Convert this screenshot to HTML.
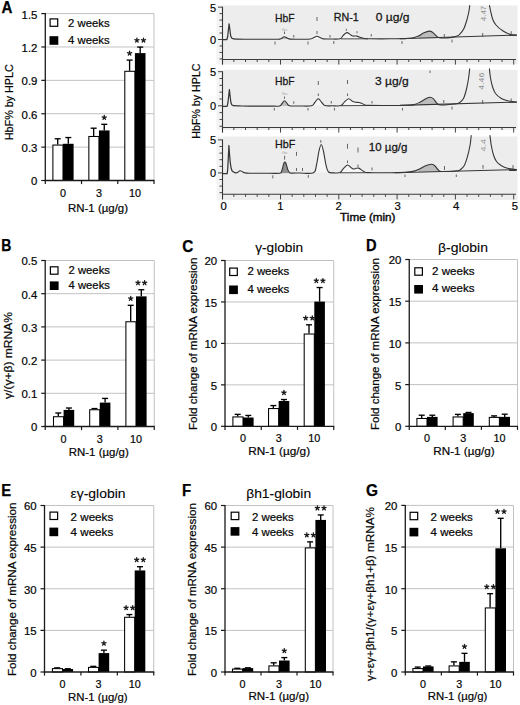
<!DOCTYPE html>
<html><head><meta charset="utf-8"><style>html,body{margin:0;padding:0;background:#fff;}svg{display:block;}</style></head><body>
<svg width="520" height="705" viewBox="0 0 520 705" font-family='"Liberation Sans", sans-serif'>
<rect width="520" height="705" fill="#fff"/>
<rect x="216.5" y="5.4" width="6.0" height="59.1" fill="#f3f3f3"/>
<rect x="222.5" y="5.4" width="295.0" height="59.1" fill="#ededed"/>
<rect x="216.5" y="69.8" width="6.0" height="60.000000000000014" fill="#f3f3f3"/>
<rect x="222.5" y="69.8" width="295.0" height="60.000000000000014" fill="#ededed"/>
<rect x="216.5" y="136.5" width="6.0" height="63.5" fill="#f3f3f3"/>
<rect x="222.5" y="136.5" width="295.0" height="63.5" fill="#ededed"/>
<path d="M341.00,38.80 C341.33,38.27 342.03,36.63 343.00,35.60 C343.97,34.57 345.58,32.77 346.80,32.60 C348.02,32.43 349.33,34.03 350.30,34.60 C351.27,35.17 351.82,35.77 352.60,36.00 C353.38,36.23 354.27,35.98 355.00,36.00 C355.73,36.02 356.17,35.88 357.00,36.10 C357.83,36.32 358.83,36.90 360.00,37.30 C361.17,37.70 362.67,38.25 364.00,38.50 C365.33,38.75 367.33,38.75 368.00,38.80 Z" fill="#f6f6f6" stroke="none"/>
<path d="M313.50,39.00 C313.50,38.78 312.92,38.15 313.50,37.70 C314.08,37.25 315.83,36.30 317.00,36.30 C318.17,36.30 319.42,37.27 320.50,37.70 C321.58,38.13 323.00,38.70 323.50,38.90 Z" fill="#f6f6f6" stroke="none"/>
<path d="M278.50,39.20 C278.97,39.07 280.33,38.80 281.30,38.40 C282.27,38.00 283.30,36.85 284.30,36.80 C285.30,36.75 286.30,37.72 287.30,38.10 C288.30,38.48 289.80,38.93 290.30,39.10 Z" fill="#bcbcbc" stroke="none"/>
<path d="M418.80,38.40 C418.80,38.00 417.93,36.93 418.80,36.00 C419.67,35.07 422.25,33.62 424.00,32.80 C425.75,31.98 427.80,31.13 429.30,31.10 C430.80,31.07 431.88,31.85 433.00,32.60 C434.12,33.35 435.25,34.87 436.00,35.60 C436.75,36.33 437.25,36.57 437.50,37.00 C437.75,37.43 437.50,38.00 437.50,38.20 Z" fill="#bcbcbc" stroke="none"/>
<line x1="400.00" y1="38.70" x2="516.50" y2="35.10" stroke="#363636" stroke-width="1.1"/>
<line x1="341.00" y1="38.90" x2="368.00" y2="38.80" stroke="#363636" stroke-width="0.9"/>
<path d="M222.50,39.50 L226.90,39.50 L227.70,36.50 L228.50,29.00 L229.10,23.80 L229.80,29.00 L230.60,35.50 L231.60,38.00 L233.20,38.80" fill="none" stroke="#363636" stroke-width="1.25" stroke-linejoin="round" stroke-linecap="round"/>
<path d="M233.20,38.80 C234.00,38.85 235.20,39.02 238.00,39.10 C240.80,39.18 244.67,39.27 250.00,39.30 C255.33,39.33 265.25,39.32 270.00,39.30 C274.75,39.28 276.62,39.35 278.50,39.20 C280.38,39.05 280.33,38.80 281.30,38.40 C282.27,38.00 283.30,36.85 284.30,36.80 C285.30,36.75 286.30,37.72 287.30,38.10 C288.30,38.48 288.18,38.92 290.30,39.10 C292.42,39.28 296.63,39.22 300.00,39.20 C303.37,39.18 308.25,39.25 310.50,39.00 C312.75,38.75 312.42,38.15 313.50,37.70 C314.58,37.25 315.83,36.30 317.00,36.30 C318.17,36.30 319.42,37.27 320.50,37.70 C321.58,38.13 321.92,38.68 323.50,38.90 C325.08,39.12 327.25,39.02 330.00,39.00 C332.75,38.98 337.83,39.37 340.00,38.80 C342.17,38.23 341.87,36.63 343.00,35.60 C344.13,34.57 345.58,32.77 346.80,32.60 C348.02,32.43 349.33,34.03 350.30,34.60 C351.27,35.17 351.82,35.77 352.60,36.00 C353.38,36.23 354.27,35.98 355.00,36.00 C355.73,36.02 356.17,35.88 357.00,36.10 C357.83,36.32 358.83,36.90 360.00,37.30 C361.17,37.70 362.33,38.25 364.00,38.50 C365.67,38.75 365.67,38.75 370.00,38.80 C374.33,38.85 384.17,38.83 390.00,38.80 C395.83,38.77 401.33,38.73 405.00,38.60 C408.67,38.47 409.83,38.40 412.00,38.00 C414.17,37.60 416.00,37.07 418.00,36.20 C420.00,35.33 422.12,33.65 424.00,32.80 C425.88,31.95 427.80,31.13 429.30,31.10 C430.80,31.07 431.88,31.85 433.00,32.60 C434.12,33.35 435.08,34.80 436.00,35.60 C436.92,36.40 437.33,37.00 438.50,37.40 C439.67,37.80 441.08,37.97 443.00,38.00 C444.92,38.03 447.90,37.85 450.00,37.60 C452.10,37.35 454.03,37.00 455.60,36.50 C457.17,36.00 458.03,35.88 459.40,34.60 C460.77,33.32 462.52,31.37 463.80,28.80 C465.08,26.23 466.23,22.17 467.10,19.20 C467.97,16.23 468.57,13.28 469.00,11.00 C469.43,8.72 469.58,6.42 469.70,5.50" fill="none" stroke="#363636" stroke-width="1.1" stroke-linejoin="round" stroke-linecap="round"/>
<path d="M489.50,5.50 C489.68,6.42 490.07,8.72 490.60,11.00 C491.13,13.28 491.80,16.87 492.70,19.20 C493.60,21.53 494.33,23.07 496.00,25.00 C497.67,26.93 500.30,29.20 502.70,30.80 C505.10,32.40 508.10,33.88 510.40,34.60 C512.70,35.32 515.48,35.02 516.50,35.10" fill="none" stroke="#363636" stroke-width="1.1" stroke-linejoin="round" stroke-linecap="round"/>
<line x1="293.75" y1="35.00" x2="293.75" y2="37.50" stroke="#555" stroke-width="0.9"/>
<line x1="275.00" y1="41.50" x2="275.00" y2="44.50" stroke="#555" stroke-width="0.9"/>
<line x1="308.00" y1="41.50" x2="308.00" y2="44.50" stroke="#555" stroke-width="0.9"/>
<line x1="317.00" y1="31.00" x2="317.00" y2="34.00" stroke="#555" stroke-width="0.9"/>
<line x1="317.00" y1="17.00" x2="317.00" y2="21.00" stroke="#555" stroke-width="0.9"/>
<line x1="330.00" y1="35.00" x2="330.00" y2="37.50" stroke="#555" stroke-width="0.9"/>
<line x1="346.30" y1="28.80" x2="346.30" y2="30.80" stroke="#555" stroke-width="0.9"/>
<line x1="357.00" y1="31.20" x2="357.00" y2="33.20" stroke="#555" stroke-width="0.9"/>
<line x1="371.30" y1="34.00" x2="371.30" y2="36.50" stroke="#555" stroke-width="0.9"/>
<line x1="333.80" y1="41.00" x2="333.80" y2="44.00" stroke="#555" stroke-width="0.9"/>
<line x1="402.00" y1="41.00" x2="402.00" y2="44.00" stroke="#555" stroke-width="0.9"/>
<line x1="444.30" y1="34.00" x2="444.30" y2="37.00" stroke="#555" stroke-width="0.9"/>
<line x1="452.00" y1="39.50" x2="452.00" y2="42.50" stroke="#555" stroke-width="0.9"/>
<line x1="482.70" y1="33.00" x2="482.70" y2="37.00" stroke="#555" stroke-width="0.9"/>
<line x1="511.20" y1="31.20" x2="511.20" y2="34.00" stroke="#555" stroke-width="0.9"/>
<line x1="284.50" y1="31.50" x2="284.50" y2="34.00" stroke="#555" stroke-width="0.9"/>
<text x="284.50" y="30.50" font-size="4" fill="#9a9a9a" text-anchor="middle">Gu</text>
<text x="485.50" y="13.50" font-size="7" fill="#8e8e8e" text-anchor="middle" textLength="15.50" lengthAdjust="spacingAndGlyphs" transform="rotate(-90 485.50 13.50)">4.47</text>
<path d="M341.00,105.60 C341.58,104.97 343.22,102.93 344.50,101.80 C345.78,100.67 347.40,98.90 348.70,98.80 C350.00,98.70 351.17,100.63 352.30,101.20 C353.43,101.77 354.38,101.98 355.50,102.20 C356.62,102.42 358.00,102.32 359.00,102.50 C360.00,102.68 360.58,102.93 361.50,103.30 C362.42,103.67 363.42,104.35 364.50,104.70 C365.58,105.05 367.42,105.28 368.00,105.40 Z" fill="#f6f6f6" stroke="none"/>
<path d="M311.50,105.80 C312.05,105.25 313.67,103.67 314.80,102.50 C315.93,101.33 317.13,98.80 318.30,98.80 C319.47,98.80 320.68,101.37 321.80,102.50 C322.92,103.63 324.47,105.08 325.00,105.60 Z" fill="#f6f6f6" stroke="none"/>
<path d="M279.50,106.00 C279.92,105.58 281.17,104.37 282.00,103.50 C282.83,102.63 283.67,100.83 284.50,100.80 C285.33,100.77 286.17,102.48 287.00,103.30 C287.83,104.12 289.08,105.30 289.50,105.70 Z" fill="#bcbcbc" stroke="none"/>
<path d="M419.50,104.90 C419.50,104.48 418.50,103.40 419.50,102.40 C420.50,101.40 423.75,99.77 425.50,98.90 C427.25,98.03 428.67,97.22 430.00,97.20 C431.33,97.18 432.42,97.87 433.50,98.80 C434.58,99.73 435.75,101.88 436.50,102.80 C437.25,103.72 437.75,103.95 438.00,104.30 C438.25,104.65 438.00,104.80 438.00,104.90 Z" fill="#bcbcbc" stroke="none"/>
<line x1="400.00" y1="105.40" x2="516.50" y2="102.10" stroke="#363636" stroke-width="1.1"/>
<line x1="341.00" y1="105.70" x2="368.00" y2="105.50" stroke="#363636" stroke-width="0.9"/>
<path d="M222.50,106.30 L227.10,106.30 L227.90,103.00 L228.70,96.00 L229.40,89.50 L230.10,96.00 L230.90,102.50 L231.90,105.00 L233.50,105.60" fill="none" stroke="#363636" stroke-width="1.25" stroke-linejoin="round" stroke-linecap="round"/>
<path d="M233.50,105.60 C234.58,105.65 237.25,105.82 240.00,105.90 C242.75,105.98 245.00,106.07 250.00,106.10 C255.00,106.13 265.08,106.12 270.00,106.10 C274.92,106.08 277.50,106.43 279.50,106.00 C281.50,105.57 281.17,104.37 282.00,103.50 C282.83,102.63 283.67,100.83 284.50,100.80 C285.33,100.77 286.17,102.48 287.00,103.30 C287.83,104.12 287.33,105.25 289.50,105.70 C291.67,106.15 296.33,105.98 300.00,106.00 C303.67,106.02 309.03,106.38 311.50,105.80 C313.97,105.22 313.67,103.67 314.80,102.50 C315.93,101.33 317.13,98.80 318.30,98.80 C319.47,98.80 320.68,101.37 321.80,102.50 C322.92,103.63 323.30,105.05 325.00,105.60 C326.70,106.15 329.33,105.80 332.00,105.80 C334.67,105.80 338.92,106.27 341.00,105.60 C343.08,104.93 343.22,102.93 344.50,101.80 C345.78,100.67 347.40,98.90 348.70,98.80 C350.00,98.70 351.17,100.63 352.30,101.20 C353.43,101.77 354.38,101.98 355.50,102.20 C356.62,102.42 358.00,102.32 359.00,102.50 C360.00,102.68 360.58,102.93 361.50,103.30 C362.42,103.67 363.42,104.35 364.50,104.70 C365.58,105.05 363.75,105.27 368.00,105.40 C372.25,105.53 383.83,105.52 390.00,105.50 C396.17,105.48 401.00,105.45 405.00,105.30 C409.00,105.15 411.50,105.12 414.00,104.60 C416.50,104.08 418.08,103.15 420.00,102.20 C421.92,101.25 423.83,99.73 425.50,98.90 C427.17,98.07 428.67,97.22 430.00,97.20 C431.33,97.18 432.42,97.87 433.50,98.80 C434.58,99.73 435.58,101.80 436.50,102.80 C437.42,103.80 437.58,104.43 439.00,104.80 C440.42,105.17 442.83,105.10 445.00,105.00 C447.17,104.90 450.17,104.40 452.00,104.20 C453.83,104.00 454.77,104.03 456.00,103.80 C457.23,103.57 458.15,103.68 459.40,102.80 C460.65,101.92 462.32,100.80 463.50,98.50 C464.68,96.20 465.65,92.42 466.50,89.00 C467.35,85.58 468.07,81.38 468.60,78.00 C469.13,74.62 469.52,70.25 469.70,68.70" fill="none" stroke="#363636" stroke-width="1.1" stroke-linejoin="round" stroke-linecap="round"/>
<path d="M489.40,68.70 C489.58,70.25 489.97,74.95 490.50,78.00 C491.03,81.05 491.77,84.42 492.60,87.00 C493.43,89.58 494.10,91.63 495.50,93.50 C496.90,95.37 499.08,97.03 501.00,98.20 C502.92,99.37 505.43,99.98 507.00,100.50 C508.57,101.02 508.82,101.03 510.40,101.30 C511.98,101.57 515.48,101.97 516.50,102.10" fill="none" stroke="#363636" stroke-width="1.1" stroke-linejoin="round" stroke-linecap="round"/>
<line x1="284.50" y1="96.50" x2="284.50" y2="98.80" stroke="#555" stroke-width="0.9"/>
<line x1="293.75" y1="101.30" x2="293.75" y2="103.80" stroke="#555" stroke-width="0.9"/>
<line x1="274.30" y1="108.00" x2="274.30" y2="110.50" stroke="#555" stroke-width="0.9"/>
<line x1="308.00" y1="108.00" x2="308.00" y2="110.50" stroke="#555" stroke-width="0.9"/>
<line x1="334.50" y1="108.00" x2="334.50" y2="110.50" stroke="#555" stroke-width="0.9"/>
<line x1="402.50" y1="108.00" x2="402.50" y2="110.50" stroke="#555" stroke-width="0.9"/>
<line x1="452.00" y1="106.50" x2="452.00" y2="109.50" stroke="#555" stroke-width="0.9"/>
<line x1="318.30" y1="93.50" x2="318.30" y2="96.00" stroke="#555" stroke-width="0.9"/>
<line x1="318.30" y1="81.00" x2="318.30" y2="85.00" stroke="#555" stroke-width="0.9"/>
<line x1="347.50" y1="80.00" x2="347.50" y2="84.00" stroke="#555" stroke-width="0.9"/>
<line x1="347.50" y1="93.50" x2="347.50" y2="96.00" stroke="#555" stroke-width="0.9"/>
<line x1="331.30" y1="101.00" x2="331.30" y2="103.50" stroke="#555" stroke-width="0.9"/>
<line x1="372.00" y1="101.00" x2="372.00" y2="103.50" stroke="#555" stroke-width="0.9"/>
<line x1="430.00" y1="70.50" x2="430.00" y2="73.00" stroke="#555" stroke-width="0.9"/>
<line x1="443.80" y1="100.00" x2="443.80" y2="103.00" stroke="#555" stroke-width="0.9"/>
<line x1="482.70" y1="100.00" x2="482.70" y2="104.00" stroke="#555" stroke-width="0.9"/>
<line x1="511.20" y1="98.50" x2="511.20" y2="101.50" stroke="#555" stroke-width="0.9"/>
<text x="284.50" y="94.50" font-size="4" fill="#9a9a9a" text-anchor="middle">Gu</text>
<text x="484.50" y="81.20" font-size="7" fill="#8e8e8e" text-anchor="middle" textLength="17.00" lengthAdjust="spacingAndGlyphs" transform="rotate(-90 484.50 81.20)">4.46</text>
<path d="M340.00,172.70 C340.58,171.98 342.25,169.68 343.50,168.40 C344.75,167.12 346.28,165.17 347.50,165.00 C348.72,164.83 349.82,166.73 350.80,167.40 C351.78,168.07 352.53,168.85 353.40,169.00 C354.27,169.15 355.15,168.45 356.00,168.30 C356.85,168.15 357.67,167.88 358.50,168.10 C359.33,168.32 360.08,169.02 361.00,169.60 C361.92,170.18 362.83,171.10 364.00,171.60 C365.17,172.10 367.33,172.43 368.00,172.60 Z" fill="#f6f6f6" stroke="none"/>
<path d="M313.50,172.80 C314.00,171.50 315.58,168.63 316.50,165.00 C317.42,161.37 318.22,154.42 319.00,151.00 C319.78,147.58 320.47,144.50 321.20,144.50 C321.93,144.50 322.60,147.58 323.40,151.00 C324.20,154.42 325.15,161.50 326.00,165.00 C326.85,168.50 328.08,170.83 328.50,172.00 Z" fill="#f6f6f6" stroke="none"/>
<path d="M279.80,173.20 C280.08,172.93 281.00,172.58 281.50,171.60 C282.00,170.62 282.42,168.67 282.80,167.30 C283.18,165.93 283.48,164.28 283.80,163.40 C284.12,162.52 284.40,162.13 284.70,162.00 C285.00,161.87 285.28,162.05 285.60,162.60 C285.92,163.15 286.23,164.13 286.60,165.30 C286.97,166.47 287.32,168.40 287.80,169.60 C288.28,170.80 288.97,171.92 289.50,172.50 C290.03,173.08 290.75,173.00 291.00,173.10 Z" fill="#8f8f8f" stroke="none"/>
<path d="M418.50,172.00 C418.50,171.57 417.42,170.42 418.50,169.40 C419.58,168.38 422.87,166.77 425.00,165.90 C427.13,165.03 429.72,164.27 431.30,164.20 C432.88,164.13 433.47,164.70 434.50,165.50 C435.53,166.30 436.75,168.15 437.50,169.00 C438.25,169.85 438.75,170.15 439.00,170.60 C439.25,171.05 439.00,171.52 439.00,171.70 Z" fill="#bcbcbc" stroke="none"/>
<line x1="395.00" y1="172.70" x2="516.50" y2="169.60" stroke="#363636" stroke-width="1.1"/>
<line x1="340.00" y1="172.80" x2="368.00" y2="172.70" stroke="#363636" stroke-width="0.9"/>
<path d="M222.50,173.60 L227.20,173.60 L227.80,168.00 L228.40,156.00 L228.90,145.50 L229.50,154.00 L230.30,163.00 L231.20,168.50 L232.30,171.20 L234.50,172.50" fill="none" stroke="#363636" stroke-width="1.25" stroke-linejoin="round" stroke-linecap="round"/>
<path d="M234.50,172.50 C234.90,172.55 235.98,173.08 236.90,172.80 C237.82,172.52 239.07,170.97 240.00,170.80 C240.93,170.63 241.73,171.47 242.50,171.80 C243.27,172.13 243.35,172.57 244.60,172.80 C245.85,173.03 245.77,173.12 250.00,173.20 C254.23,173.28 265.03,173.30 270.00,173.30 C274.97,173.30 277.88,173.48 279.80,173.20 C281.72,172.92 281.00,172.58 281.50,171.60 C282.00,170.62 282.42,168.67 282.80,167.30 C283.18,165.93 283.48,164.28 283.80,163.40 C284.12,162.52 284.40,162.13 284.70,162.00 C285.00,161.87 285.28,162.05 285.60,162.60 C285.92,163.15 286.23,164.13 286.60,165.30 C286.97,166.47 287.32,168.40 287.80,169.60 C288.28,170.80 288.97,171.92 289.50,172.50 C290.03,173.08 289.25,173.02 291.00,173.10 C292.75,173.18 296.25,173.05 300.00,173.00 C303.75,172.95 310.75,174.13 313.50,172.80 C316.25,171.47 315.58,168.63 316.50,165.00 C317.42,161.37 318.22,154.42 319.00,151.00 C319.78,147.58 320.47,144.50 321.20,144.50 C321.93,144.50 322.60,147.58 323.40,151.00 C324.20,154.42 325.15,161.50 326.00,165.00 C326.85,168.50 327.17,170.68 328.50,172.00 C329.83,173.32 332.08,172.80 334.00,172.90 C335.92,173.00 338.42,173.35 340.00,172.60 C341.58,171.85 342.25,169.67 343.50,168.40 C344.75,167.13 346.28,165.17 347.50,165.00 C348.72,164.83 349.82,166.73 350.80,167.40 C351.78,168.07 352.53,168.85 353.40,169.00 C354.27,169.15 355.15,168.45 356.00,168.30 C356.85,168.15 357.67,167.88 358.50,168.10 C359.33,168.32 360.08,169.02 361.00,169.60 C361.92,170.18 362.83,171.10 364.00,171.60 C365.17,172.10 363.67,172.40 368.00,172.60 C372.33,172.80 383.83,172.83 390.00,172.80 C396.17,172.77 401.17,172.63 405.00,172.40 C408.83,172.17 410.67,171.93 413.00,171.40 C415.33,170.87 417.00,170.12 419.00,169.20 C421.00,168.28 422.95,166.73 425.00,165.90 C427.05,165.07 429.72,164.27 431.30,164.20 C432.88,164.13 433.47,164.70 434.50,165.50 C435.53,166.30 436.58,168.03 437.50,169.00 C438.42,169.97 438.58,170.88 440.00,171.30 C441.42,171.72 443.83,171.50 446.00,171.50 C448.17,171.50 451.17,171.42 453.00,171.30 C454.83,171.18 455.83,171.02 457.00,170.80 C458.17,170.58 458.78,170.88 460.00,170.00 C461.22,169.12 463.03,167.83 464.30,165.50 C465.57,163.17 466.63,159.42 467.60,156.00 C468.57,152.58 469.50,148.40 470.10,145.00 C470.70,141.60 471.02,137.17 471.20,135.60" fill="none" stroke="#363636" stroke-width="1.1" stroke-linejoin="round" stroke-linecap="round"/>
<path d="M490.00,135.60 C490.20,137.17 490.62,141.77 491.20,145.00 C491.78,148.23 492.62,152.25 493.50,155.00 C494.38,157.75 495.17,159.70 496.50,161.50 C497.83,163.30 499.67,164.67 501.50,165.80 C503.33,166.93 505.00,167.67 507.50,168.30 C510.00,168.93 515.00,169.38 516.50,169.60" fill="none" stroke="#363636" stroke-width="1.1" stroke-linejoin="round" stroke-linecap="round"/>
<line x1="284.60" y1="155.80" x2="284.60" y2="159.60" stroke="#555" stroke-width="0.9"/>
<line x1="296.50" y1="151.90" x2="296.50" y2="155.80" stroke="#555" stroke-width="0.9"/>
<line x1="296.50" y1="168.00" x2="296.50" y2="171.00" stroke="#555" stroke-width="0.9"/>
<line x1="302.50" y1="168.00" x2="302.50" y2="171.00" stroke="#555" stroke-width="0.9"/>
<line x1="272.80" y1="175.30" x2="272.80" y2="178.40" stroke="#555" stroke-width="0.9"/>
<line x1="308.30" y1="175.00" x2="308.30" y2="177.80" stroke="#555" stroke-width="0.9"/>
<line x1="320.80" y1="140.00" x2="320.80" y2="142.80" stroke="#555" stroke-width="0.9"/>
<line x1="347.50" y1="143.80" x2="347.50" y2="148.80" stroke="#555" stroke-width="0.9"/>
<line x1="347.50" y1="160.50" x2="347.50" y2="163.00" stroke="#555" stroke-width="0.9"/>
<line x1="358.00" y1="147.50" x2="358.00" y2="152.50" stroke="#555" stroke-width="0.9"/>
<line x1="358.00" y1="164.50" x2="358.00" y2="167.00" stroke="#555" stroke-width="0.9"/>
<line x1="372.00" y1="167.50" x2="372.00" y2="170.30" stroke="#555" stroke-width="0.9"/>
<line x1="444.50" y1="166.00" x2="444.50" y2="170.00" stroke="#555" stroke-width="0.9"/>
<line x1="405.00" y1="174.50" x2="405.00" y2="177.00" stroke="#555" stroke-width="0.9"/>
<line x1="456.30" y1="174.50" x2="456.30" y2="177.00" stroke="#555" stroke-width="0.9"/>
<line x1="483.00" y1="165.00" x2="483.00" y2="168.80" stroke="#555" stroke-width="0.9"/>
<line x1="513.00" y1="165.00" x2="513.00" y2="168.80" stroke="#555" stroke-width="0.9"/>
<text x="284.60" y="153.50" font-size="4" fill="#9a9a9a" text-anchor="middle">Gu</text>
<text x="486.00" y="145.20" font-size="7" fill="#8e8e8e" text-anchor="middle" textLength="12.50" lengthAdjust="spacingAndGlyphs" transform="rotate(-90 486.00 145.20)">4.4</text>
<text x="274.90" y="21.80" font-size="11.8" fill="#151515" stroke="#151515" stroke-width="0.28" textLength="19.60" lengthAdjust="spacingAndGlyphs">HbF</text>
<text x="333.75" y="20.80" font-size="11.8" fill="#151515" stroke="#151515" stroke-width="0.28" textLength="25.00" lengthAdjust="spacingAndGlyphs">RN-1</text>
<text x="375.75" y="20.80" font-size="11.8" fill="#151515" stroke="#151515" stroke-width="0.28" textLength="33.70" lengthAdjust="spacingAndGlyphs">0 µg/g</text>
<text x="274.90" y="85.40" font-size="11.8" fill="#151515" stroke="#151515" stroke-width="0.28" textLength="19.60" lengthAdjust="spacingAndGlyphs">HbF</text>
<text x="375.00" y="85.00" font-size="11.8" fill="#151515" stroke="#151515" stroke-width="0.28" textLength="33.70" lengthAdjust="spacingAndGlyphs">3 µg/g</text>
<text x="275.10" y="148.10" font-size="11.8" fill="#151515" stroke="#151515" stroke-width="0.28" textLength="20.30" lengthAdjust="spacingAndGlyphs">HbF</text>
<text x="368.75" y="150.50" font-size="11.8" fill="#151515" stroke="#151515" stroke-width="0.28" textLength="38.70" lengthAdjust="spacingAndGlyphs">10 µg/g</text>
<line x1="222.5" y1="6.65" x2="222.5" y2="64.70" stroke="#333" stroke-width="1.1"/>
<line x1="222" y1="59.40" x2="516" y2="59.40" stroke="#3a3a3a" stroke-width="1.05"/>
<line x1="219.50" y1="58.91" x2="222.5" y2="58.91" stroke="#444" stroke-width="1"/>
<line x1="219.50" y1="52.44" x2="222.5" y2="52.44" stroke="#444" stroke-width="1"/>
<line x1="219.50" y1="45.97" x2="222.5" y2="45.97" stroke="#444" stroke-width="1"/>
<line x1="218.00" y1="39.50" x2="222.5" y2="39.50" stroke="#444" stroke-width="1"/>
<line x1="219.50" y1="33.03" x2="222.5" y2="33.03" stroke="#444" stroke-width="1"/>
<line x1="219.50" y1="26.56" x2="222.5" y2="26.56" stroke="#444" stroke-width="1"/>
<line x1="219.50" y1="20.09" x2="222.5" y2="20.09" stroke="#444" stroke-width="1"/>
<line x1="219.50" y1="13.62" x2="222.5" y2="13.62" stroke="#444" stroke-width="1"/>
<line x1="218.00" y1="7.15" x2="222.5" y2="7.15" stroke="#444" stroke-width="1"/>
<line x1="233.86" y1="59.40" x2="233.86" y2="62.00" stroke="#444" stroke-width="1"/>
<line x1="245.52" y1="59.40" x2="245.52" y2="62.00" stroke="#444" stroke-width="1"/>
<line x1="257.18" y1="59.40" x2="257.18" y2="62.00" stroke="#444" stroke-width="1"/>
<line x1="268.84" y1="59.40" x2="268.84" y2="62.00" stroke="#444" stroke-width="1"/>
<line x1="280.50" y1="59.40" x2="280.50" y2="64.60" stroke="#444" stroke-width="1"/>
<line x1="292.16" y1="59.40" x2="292.16" y2="62.00" stroke="#444" stroke-width="1"/>
<line x1="303.82" y1="59.40" x2="303.82" y2="62.00" stroke="#444" stroke-width="1"/>
<line x1="315.48" y1="59.40" x2="315.48" y2="62.00" stroke="#444" stroke-width="1"/>
<line x1="327.14" y1="59.40" x2="327.14" y2="62.00" stroke="#444" stroke-width="1"/>
<line x1="338.80" y1="59.40" x2="338.80" y2="64.60" stroke="#444" stroke-width="1"/>
<line x1="350.46" y1="59.40" x2="350.46" y2="62.00" stroke="#444" stroke-width="1"/>
<line x1="362.12" y1="59.40" x2="362.12" y2="62.00" stroke="#444" stroke-width="1"/>
<line x1="373.78" y1="59.40" x2="373.78" y2="62.00" stroke="#444" stroke-width="1"/>
<line x1="385.44" y1="59.40" x2="385.44" y2="62.00" stroke="#444" stroke-width="1"/>
<line x1="397.10" y1="59.40" x2="397.10" y2="64.60" stroke="#444" stroke-width="1"/>
<line x1="408.76" y1="59.40" x2="408.76" y2="62.00" stroke="#444" stroke-width="1"/>
<line x1="420.42" y1="59.40" x2="420.42" y2="62.00" stroke="#444" stroke-width="1"/>
<line x1="432.08" y1="59.40" x2="432.08" y2="62.00" stroke="#444" stroke-width="1"/>
<line x1="443.74" y1="59.40" x2="443.74" y2="62.00" stroke="#444" stroke-width="1"/>
<line x1="455.40" y1="59.40" x2="455.40" y2="64.60" stroke="#444" stroke-width="1"/>
<line x1="467.06" y1="59.40" x2="467.06" y2="62.00" stroke="#444" stroke-width="1"/>
<line x1="478.72" y1="59.40" x2="478.72" y2="62.00" stroke="#444" stroke-width="1"/>
<line x1="490.38" y1="59.40" x2="490.38" y2="62.00" stroke="#444" stroke-width="1"/>
<line x1="502.04" y1="59.40" x2="502.04" y2="62.00" stroke="#444" stroke-width="1"/>
<line x1="513.70" y1="59.40" x2="513.70" y2="64.60" stroke="#444" stroke-width="1"/>
<text x="216.00" y="11.65" font-size="11" text-anchor="end" stroke="#151515" stroke-width="0.22">5</text>
<text x="216.00" y="44.00" font-size="11" text-anchor="end" stroke="#151515" stroke-width="0.22">0</text>
<line x1="222.5" y1="71.20" x2="222.5" y2="132.70" stroke="#333" stroke-width="1.1"/>
<line x1="222" y1="127.40" x2="516" y2="127.40" stroke="#3a3a3a" stroke-width="1.05"/>
<line x1="219.50" y1="126.26" x2="222.5" y2="126.26" stroke="#444" stroke-width="1"/>
<line x1="219.50" y1="119.44" x2="222.5" y2="119.44" stroke="#444" stroke-width="1"/>
<line x1="219.50" y1="112.62" x2="222.5" y2="112.62" stroke="#444" stroke-width="1"/>
<line x1="218.00" y1="105.80" x2="222.5" y2="105.80" stroke="#444" stroke-width="1"/>
<line x1="219.50" y1="98.98" x2="222.5" y2="98.98" stroke="#444" stroke-width="1"/>
<line x1="219.50" y1="92.16" x2="222.5" y2="92.16" stroke="#444" stroke-width="1"/>
<line x1="219.50" y1="85.34" x2="222.5" y2="85.34" stroke="#444" stroke-width="1"/>
<line x1="219.50" y1="78.52" x2="222.5" y2="78.52" stroke="#444" stroke-width="1"/>
<line x1="218.00" y1="71.70" x2="222.5" y2="71.70" stroke="#444" stroke-width="1"/>
<line x1="233.86" y1="127.40" x2="233.86" y2="130.00" stroke="#444" stroke-width="1"/>
<line x1="245.52" y1="127.40" x2="245.52" y2="130.00" stroke="#444" stroke-width="1"/>
<line x1="257.18" y1="127.40" x2="257.18" y2="130.00" stroke="#444" stroke-width="1"/>
<line x1="268.84" y1="127.40" x2="268.84" y2="130.00" stroke="#444" stroke-width="1"/>
<line x1="280.50" y1="127.40" x2="280.50" y2="132.60" stroke="#444" stroke-width="1"/>
<line x1="292.16" y1="127.40" x2="292.16" y2="130.00" stroke="#444" stroke-width="1"/>
<line x1="303.82" y1="127.40" x2="303.82" y2="130.00" stroke="#444" stroke-width="1"/>
<line x1="315.48" y1="127.40" x2="315.48" y2="130.00" stroke="#444" stroke-width="1"/>
<line x1="327.14" y1="127.40" x2="327.14" y2="130.00" stroke="#444" stroke-width="1"/>
<line x1="338.80" y1="127.40" x2="338.80" y2="132.60" stroke="#444" stroke-width="1"/>
<line x1="350.46" y1="127.40" x2="350.46" y2="130.00" stroke="#444" stroke-width="1"/>
<line x1="362.12" y1="127.40" x2="362.12" y2="130.00" stroke="#444" stroke-width="1"/>
<line x1="373.78" y1="127.40" x2="373.78" y2="130.00" stroke="#444" stroke-width="1"/>
<line x1="385.44" y1="127.40" x2="385.44" y2="130.00" stroke="#444" stroke-width="1"/>
<line x1="397.10" y1="127.40" x2="397.10" y2="132.60" stroke="#444" stroke-width="1"/>
<line x1="408.76" y1="127.40" x2="408.76" y2="130.00" stroke="#444" stroke-width="1"/>
<line x1="420.42" y1="127.40" x2="420.42" y2="130.00" stroke="#444" stroke-width="1"/>
<line x1="432.08" y1="127.40" x2="432.08" y2="130.00" stroke="#444" stroke-width="1"/>
<line x1="443.74" y1="127.40" x2="443.74" y2="130.00" stroke="#444" stroke-width="1"/>
<line x1="455.40" y1="127.40" x2="455.40" y2="132.60" stroke="#444" stroke-width="1"/>
<line x1="467.06" y1="127.40" x2="467.06" y2="130.00" stroke="#444" stroke-width="1"/>
<line x1="478.72" y1="127.40" x2="478.72" y2="130.00" stroke="#444" stroke-width="1"/>
<line x1="490.38" y1="127.40" x2="490.38" y2="130.00" stroke="#444" stroke-width="1"/>
<line x1="502.04" y1="127.40" x2="502.04" y2="130.00" stroke="#444" stroke-width="1"/>
<line x1="513.70" y1="127.40" x2="513.70" y2="132.60" stroke="#444" stroke-width="1"/>
<text x="216.00" y="76.20" font-size="11" text-anchor="end" stroke="#151515" stroke-width="0.22">5</text>
<text x="216.00" y="110.30" font-size="11" text-anchor="end" stroke="#151515" stroke-width="0.22">0</text>
<line x1="222.5" y1="139.40" x2="222.5" y2="199.50" stroke="#333" stroke-width="1.1"/>
<line x1="222" y1="194.20" x2="516" y2="194.20" stroke="#3a3a3a" stroke-width="1.05"/>
<line x1="219.50" y1="192.70" x2="222.5" y2="192.70" stroke="#444" stroke-width="1"/>
<line x1="219.50" y1="186.10" x2="222.5" y2="186.10" stroke="#444" stroke-width="1"/>
<line x1="219.50" y1="179.50" x2="222.5" y2="179.50" stroke="#444" stroke-width="1"/>
<line x1="218.00" y1="172.90" x2="222.5" y2="172.90" stroke="#444" stroke-width="1"/>
<line x1="219.50" y1="166.30" x2="222.5" y2="166.30" stroke="#444" stroke-width="1"/>
<line x1="219.50" y1="159.70" x2="222.5" y2="159.70" stroke="#444" stroke-width="1"/>
<line x1="219.50" y1="153.10" x2="222.5" y2="153.10" stroke="#444" stroke-width="1"/>
<line x1="219.50" y1="146.50" x2="222.5" y2="146.50" stroke="#444" stroke-width="1"/>
<line x1="218.00" y1="139.90" x2="222.5" y2="139.90" stroke="#444" stroke-width="1"/>
<line x1="233.86" y1="194.20" x2="233.86" y2="196.80" stroke="#444" stroke-width="1"/>
<line x1="245.52" y1="194.20" x2="245.52" y2="196.80" stroke="#444" stroke-width="1"/>
<line x1="257.18" y1="194.20" x2="257.18" y2="196.80" stroke="#444" stroke-width="1"/>
<line x1="268.84" y1="194.20" x2="268.84" y2="196.80" stroke="#444" stroke-width="1"/>
<line x1="280.50" y1="194.20" x2="280.50" y2="199.40" stroke="#444" stroke-width="1"/>
<line x1="292.16" y1="194.20" x2="292.16" y2="196.80" stroke="#444" stroke-width="1"/>
<line x1="303.82" y1="194.20" x2="303.82" y2="196.80" stroke="#444" stroke-width="1"/>
<line x1="315.48" y1="194.20" x2="315.48" y2="196.80" stroke="#444" stroke-width="1"/>
<line x1="327.14" y1="194.20" x2="327.14" y2="196.80" stroke="#444" stroke-width="1"/>
<line x1="338.80" y1="194.20" x2="338.80" y2="199.40" stroke="#444" stroke-width="1"/>
<line x1="350.46" y1="194.20" x2="350.46" y2="196.80" stroke="#444" stroke-width="1"/>
<line x1="362.12" y1="194.20" x2="362.12" y2="196.80" stroke="#444" stroke-width="1"/>
<line x1="373.78" y1="194.20" x2="373.78" y2="196.80" stroke="#444" stroke-width="1"/>
<line x1="385.44" y1="194.20" x2="385.44" y2="196.80" stroke="#444" stroke-width="1"/>
<line x1="397.10" y1="194.20" x2="397.10" y2="199.40" stroke="#444" stroke-width="1"/>
<line x1="408.76" y1="194.20" x2="408.76" y2="196.80" stroke="#444" stroke-width="1"/>
<line x1="420.42" y1="194.20" x2="420.42" y2="196.80" stroke="#444" stroke-width="1"/>
<line x1="432.08" y1="194.20" x2="432.08" y2="196.80" stroke="#444" stroke-width="1"/>
<line x1="443.74" y1="194.20" x2="443.74" y2="196.80" stroke="#444" stroke-width="1"/>
<line x1="455.40" y1="194.20" x2="455.40" y2="199.40" stroke="#444" stroke-width="1"/>
<line x1="467.06" y1="194.20" x2="467.06" y2="196.80" stroke="#444" stroke-width="1"/>
<line x1="478.72" y1="194.20" x2="478.72" y2="196.80" stroke="#444" stroke-width="1"/>
<line x1="490.38" y1="194.20" x2="490.38" y2="196.80" stroke="#444" stroke-width="1"/>
<line x1="502.04" y1="194.20" x2="502.04" y2="196.80" stroke="#444" stroke-width="1"/>
<line x1="513.70" y1="194.20" x2="513.70" y2="199.40" stroke="#444" stroke-width="1"/>
<text x="216.00" y="144.40" font-size="11" text-anchor="end" stroke="#151515" stroke-width="0.22">5</text>
<text x="216.00" y="177.40" font-size="11" text-anchor="end" stroke="#151515" stroke-width="0.22">0</text>
<text x="223.60" y="210.00" font-size="11.3" text-anchor="middle" stroke="#151515" stroke-width="0.22">0</text>
<text x="280.50" y="210.00" font-size="11.3" text-anchor="middle" stroke="#151515" stroke-width="0.22">1</text>
<text x="338.60" y="210.00" font-size="11.3" text-anchor="middle" stroke="#151515" stroke-width="0.22">2</text>
<text x="397.60" y="210.00" font-size="11.3" text-anchor="middle" stroke="#151515" stroke-width="0.22">3</text>
<text x="456.20" y="210.00" font-size="11.3" text-anchor="middle" stroke="#151515" stroke-width="0.22">4</text>
<text x="514.80" y="210.00" font-size="11.3" text-anchor="middle" stroke="#151515" stroke-width="0.22">5</text>
<text x="340.10" y="220.80" font-size="11.5" stroke="#151515" stroke-width="0.45" textLength="55.40" lengthAdjust="spacingAndGlyphs">Time (min)</text>
<text x="199.60" y="101.10" font-size="10.3" text-anchor="middle" stroke="#151515" stroke-width="0.22" textLength="75.20" lengthAdjust="spacingAndGlyphs" transform="rotate(-90 199.60 101.10)">HbF% by HPLC</text>
<line x1="45.30" y1="147.12" x2="154.00" y2="147.12" stroke="#c2c2c2" stroke-width="1"/>
<line x1="45.30" y1="113.74" x2="154.00" y2="113.74" stroke="#c2c2c2" stroke-width="1"/>
<line x1="45.30" y1="80.36" x2="154.00" y2="80.36" stroke="#c2c2c2" stroke-width="1"/>
<line x1="45.30" y1="46.98" x2="154.00" y2="46.98" stroke="#c2c2c2" stroke-width="1"/>
<line x1="45.30" y1="13.60" x2="154.00" y2="13.60" stroke="#c2c2c2" stroke-width="1"/>
<line x1="154.00" y1="13.60" x2="154.00" y2="180.50" stroke="#c2c2c2" stroke-width="1"/>
<line x1="57.70" y1="144.56" x2="57.70" y2="138.78" stroke="#000" stroke-width="1.35"/>
<line x1="54.70" y1="138.78" x2="60.70" y2="138.78" stroke="#000" stroke-width="1.35"/>
<rect x="52.90" y="145.06" width="10.10" height="35.44" fill="#fff" stroke="#000" stroke-width="1.05"/>
<line x1="68.30" y1="143.78" x2="68.30" y2="137.55" stroke="#000" stroke-width="1.35"/>
<line x1="65.30" y1="137.55" x2="71.30" y2="137.55" stroke="#000" stroke-width="1.35"/>
<rect x="63.00" y="143.78" width="10.60" height="36.72" fill="#000"/>
<line x1="93.65" y1="135.99" x2="93.65" y2="128.20" stroke="#000" stroke-width="1.35"/>
<line x1="90.65" y1="128.20" x2="96.65" y2="128.20" stroke="#000" stroke-width="1.35"/>
<rect x="88.85" y="136.49" width="10.10" height="44.01" fill="#fff" stroke="#000" stroke-width="1.05"/>
<line x1="104.25" y1="130.43" x2="104.25" y2="124.31" stroke="#000" stroke-width="1.35"/>
<line x1="101.25" y1="124.31" x2="107.25" y2="124.31" stroke="#000" stroke-width="1.35"/>
<rect x="98.95" y="130.43" width="10.60" height="50.07" fill="#000"/>
<line x1="129.60" y1="70.79" x2="129.60" y2="60.11" stroke="#000" stroke-width="1.35"/>
<line x1="126.60" y1="60.11" x2="132.60" y2="60.11" stroke="#000" stroke-width="1.35"/>
<rect x="124.80" y="71.29" width="10.10" height="109.21" fill="#fff" stroke="#000" stroke-width="1.05"/>
<line x1="140.20" y1="53.10" x2="140.20" y2="47.09" stroke="#000" stroke-width="1.35"/>
<line x1="137.20" y1="47.09" x2="143.20" y2="47.09" stroke="#000" stroke-width="1.35"/>
<rect x="134.90" y="53.10" width="10.60" height="127.40" fill="#000"/>
<path d="M104.25,117.51L104.25,115.31M104.25,117.51L106.34,116.83M104.25,117.51L105.54,119.29M104.25,117.51L102.96,119.29M104.25,117.51L102.16,116.83" stroke="#1a1a1a" stroke-width="1.3" fill="none" stroke-linecap="round"/>
<path d="M129.60,53.31L129.60,51.11M129.60,53.31L131.69,52.63M129.60,53.31L130.89,55.09M129.60,53.31L128.31,55.09M129.60,53.31L127.51,52.63" stroke="#1a1a1a" stroke-width="1.3" fill="none" stroke-linecap="round"/>
<path d="M136.90,40.29L136.90,38.09M136.90,40.29L138.99,39.61M136.90,40.29L138.19,42.07M136.90,40.29L135.61,42.07M136.90,40.29L134.81,39.61" stroke="#1a1a1a" stroke-width="1.3" fill="none" stroke-linecap="round"/>
<path d="M143.50,40.29L143.50,38.09M143.50,40.29L145.59,39.61M143.50,40.29L144.79,42.07M143.50,40.29L142.21,42.07M143.50,40.29L141.41,39.61" stroke="#1a1a1a" stroke-width="1.3" fill="none" stroke-linecap="round"/>
<line x1="45.30" y1="13.10" x2="45.30" y2="181.00" stroke="#1a1a1a" stroke-width="1.3"/>
<line x1="44.70" y1="180.50" x2="154.50" y2="180.50" stroke="#1a1a1a" stroke-width="1.3"/>
<line x1="41.30" y1="180.50" x2="45.30" y2="180.50" stroke="#1a1a1a" stroke-width="1.2"/>
<text x="37.40" y="185.40" font-size="11.4" text-anchor="end" stroke="#151515" stroke-width="0.22">0</text>
<line x1="41.30" y1="147.12" x2="45.30" y2="147.12" stroke="#1a1a1a" stroke-width="1.2"/>
<text x="37.40" y="152.02" font-size="11.4" text-anchor="end" stroke="#151515" stroke-width="0.22">0.3</text>
<line x1="41.30" y1="113.74" x2="45.30" y2="113.74" stroke="#1a1a1a" stroke-width="1.2"/>
<text x="37.40" y="118.64" font-size="11.4" text-anchor="end" stroke="#151515" stroke-width="0.22">0.6</text>
<line x1="41.30" y1="80.36" x2="45.30" y2="80.36" stroke="#1a1a1a" stroke-width="1.2"/>
<text x="37.40" y="85.26" font-size="11.4" text-anchor="end" stroke="#151515" stroke-width="0.22">0.9</text>
<line x1="41.30" y1="46.98" x2="45.30" y2="46.98" stroke="#1a1a1a" stroke-width="1.2"/>
<text x="37.40" y="51.88" font-size="11.4" text-anchor="end" stroke="#151515" stroke-width="0.22">1.2</text>
<line x1="41.30" y1="13.60" x2="45.30" y2="13.60" stroke="#1a1a1a" stroke-width="1.2"/>
<text x="37.40" y="18.50" font-size="11.4" text-anchor="end" stroke="#151515" stroke-width="0.22">1.5</text>
<line x1="45.30" y1="180.50" x2="45.30" y2="184.10" stroke="#1a1a1a" stroke-width="1.2"/>
<line x1="81.53" y1="180.50" x2="81.53" y2="184.10" stroke="#1a1a1a" stroke-width="1.2"/>
<line x1="117.77" y1="180.50" x2="117.77" y2="184.10" stroke="#1a1a1a" stroke-width="1.2"/>
<line x1="154.00" y1="180.50" x2="154.00" y2="184.10" stroke="#1a1a1a" stroke-width="1.2"/>
<text x="63.00" y="196.50" font-size="10.8" text-anchor="middle" stroke="#151515" stroke-width="0.22">0</text>
<text x="98.95" y="196.50" font-size="10.8" text-anchor="middle" stroke="#151515" stroke-width="0.22">3</text>
<text x="134.90" y="196.50" font-size="10.8" text-anchor="middle" stroke="#151515" stroke-width="0.22">10</text>
<text x="68.00" y="211.60" font-size="11" stroke="#151515" stroke-width="0.22" textLength="60.00" lengthAdjust="spacingAndGlyphs">RN-1 (µg/g)</text>
<rect x="50.10" y="18.90" width="7.6" height="7.4" fill="#fff" stroke="#000" stroke-width="1.2"/>
<rect x="49.50" y="36.20" width="8.8" height="8.6" fill="#000"/>
<text x="68.10" y="26.60" font-size="11" stroke="#151515" stroke-width="0.22" textLength="41.50" lengthAdjust="spacingAndGlyphs">2 weeks</text>
<text x="68.10" y="44.30" font-size="11" stroke="#151515" stroke-width="0.22" textLength="41.50" lengthAdjust="spacingAndGlyphs">4 weeks</text>
<text x="12.80" y="102.20" font-size="10.3" text-anchor="middle" stroke="#151515" stroke-width="0.22" textLength="76.00" lengthAdjust="spacingAndGlyphs" transform="rotate(-90 12.80 102.20)">HbF% by HPLC</text>
<text x="1.50" y="13.20" font-size="16" font-weight="bold" fill="#000" stroke="#000" stroke-width="0.25" textLength="10.90" lengthAdjust="spacingAndGlyphs">A</text>
<line x1="45.20" y1="393.30" x2="154.25" y2="393.30" stroke="#c2c2c2" stroke-width="1"/>
<line x1="45.20" y1="360.10" x2="154.25" y2="360.10" stroke="#c2c2c2" stroke-width="1"/>
<line x1="45.20" y1="326.90" x2="154.25" y2="326.90" stroke="#c2c2c2" stroke-width="1"/>
<line x1="45.20" y1="293.70" x2="154.25" y2="293.70" stroke="#c2c2c2" stroke-width="1"/>
<line x1="45.20" y1="260.50" x2="154.25" y2="260.50" stroke="#c2c2c2" stroke-width="1"/>
<line x1="154.25" y1="260.50" x2="154.25" y2="426.50" stroke="#c2c2c2" stroke-width="1"/>
<line x1="58.30" y1="416.21" x2="58.30" y2="412.99" stroke="#000" stroke-width="1.35"/>
<line x1="55.30" y1="412.99" x2="61.30" y2="412.99" stroke="#000" stroke-width="1.35"/>
<rect x="53.50" y="416.71" width="10.10" height="9.79" fill="#fff" stroke="#000" stroke-width="1.05"/>
<line x1="68.90" y1="409.90" x2="68.90" y2="408.01" stroke="#000" stroke-width="1.35"/>
<line x1="65.90" y1="408.01" x2="71.90" y2="408.01" stroke="#000" stroke-width="1.35"/>
<rect x="63.60" y="409.90" width="10.60" height="16.60" fill="#000"/>
<line x1="94.50" y1="409.24" x2="94.50" y2="408.57" stroke="#000" stroke-width="1.35"/>
<line x1="91.50" y1="408.57" x2="97.50" y2="408.57" stroke="#000" stroke-width="1.35"/>
<rect x="89.70" y="409.74" width="10.10" height="16.76" fill="#fff" stroke="#000" stroke-width="1.05"/>
<line x1="105.10" y1="402.60" x2="105.10" y2="398.41" stroke="#000" stroke-width="1.35"/>
<line x1="102.10" y1="398.41" x2="108.10" y2="398.41" stroke="#000" stroke-width="1.35"/>
<rect x="99.80" y="402.60" width="10.60" height="23.90" fill="#000"/>
<line x1="130.70" y1="321.26" x2="130.70" y2="305.32" stroke="#000" stroke-width="1.35"/>
<line x1="127.70" y1="305.32" x2="133.70" y2="305.32" stroke="#000" stroke-width="1.35"/>
<rect x="125.90" y="321.76" width="10.10" height="104.74" fill="#fff" stroke="#000" stroke-width="1.05"/>
<line x1="141.30" y1="296.36" x2="141.30" y2="289.72" stroke="#000" stroke-width="1.35"/>
<line x1="138.30" y1="289.72" x2="144.30" y2="289.72" stroke="#000" stroke-width="1.35"/>
<rect x="136.00" y="296.36" width="10.60" height="130.14" fill="#000"/>
<path d="M130.70,298.52L130.70,296.32M130.70,298.52L132.79,297.84M130.70,298.52L131.99,300.30M130.70,298.52L129.41,300.30M130.70,298.52L128.61,297.84" stroke="#1a1a1a" stroke-width="1.3" fill="none" stroke-linecap="round"/>
<path d="M138.00,282.92L138.00,280.72M138.00,282.92L140.09,282.24M138.00,282.92L139.29,284.70M138.00,282.92L136.71,284.70M138.00,282.92L135.91,282.24" stroke="#1a1a1a" stroke-width="1.3" fill="none" stroke-linecap="round"/>
<path d="M144.60,282.92L144.60,280.72M144.60,282.92L146.69,282.24M144.60,282.92L145.89,284.70M144.60,282.92L143.31,284.70M144.60,282.92L142.51,282.24" stroke="#1a1a1a" stroke-width="1.3" fill="none" stroke-linecap="round"/>
<line x1="45.20" y1="260.00" x2="45.20" y2="427.00" stroke="#1a1a1a" stroke-width="1.3"/>
<line x1="44.60" y1="426.50" x2="154.75" y2="426.50" stroke="#1a1a1a" stroke-width="1.3"/>
<line x1="41.20" y1="426.50" x2="45.20" y2="426.50" stroke="#1a1a1a" stroke-width="1.2"/>
<text x="37.30" y="431.40" font-size="11.4" text-anchor="end" stroke="#151515" stroke-width="0.22">0</text>
<line x1="41.20" y1="393.30" x2="45.20" y2="393.30" stroke="#1a1a1a" stroke-width="1.2"/>
<text x="37.30" y="398.20" font-size="11.4" text-anchor="end" stroke="#151515" stroke-width="0.22">0.1</text>
<line x1="41.20" y1="360.10" x2="45.20" y2="360.10" stroke="#1a1a1a" stroke-width="1.2"/>
<text x="37.30" y="365.00" font-size="11.4" text-anchor="end" stroke="#151515" stroke-width="0.22">0.2</text>
<line x1="41.20" y1="326.90" x2="45.20" y2="326.90" stroke="#1a1a1a" stroke-width="1.2"/>
<text x="37.30" y="331.80" font-size="11.4" text-anchor="end" stroke="#151515" stroke-width="0.22">0.3</text>
<line x1="41.20" y1="293.70" x2="45.20" y2="293.70" stroke="#1a1a1a" stroke-width="1.2"/>
<text x="37.30" y="298.60" font-size="11.4" text-anchor="end" stroke="#151515" stroke-width="0.22">0.4</text>
<line x1="41.20" y1="260.50" x2="45.20" y2="260.50" stroke="#1a1a1a" stroke-width="1.2"/>
<text x="37.30" y="265.40" font-size="11.4" text-anchor="end" stroke="#151515" stroke-width="0.22">0.5</text>
<line x1="45.20" y1="426.50" x2="45.20" y2="430.10" stroke="#1a1a1a" stroke-width="1.2"/>
<line x1="81.55" y1="426.50" x2="81.55" y2="430.10" stroke="#1a1a1a" stroke-width="1.2"/>
<line x1="117.90" y1="426.50" x2="117.90" y2="430.10" stroke="#1a1a1a" stroke-width="1.2"/>
<line x1="154.25" y1="426.50" x2="154.25" y2="430.10" stroke="#1a1a1a" stroke-width="1.2"/>
<text x="63.60" y="442.50" font-size="10.8" text-anchor="middle" stroke="#151515" stroke-width="0.22">0</text>
<text x="99.80" y="442.50" font-size="10.8" text-anchor="middle" stroke="#151515" stroke-width="0.22">3</text>
<text x="136.00" y="442.50" font-size="10.8" text-anchor="middle" stroke="#151515" stroke-width="0.22">10</text>
<text x="68.75" y="456.00" font-size="11" stroke="#151515" stroke-width="0.22" textLength="60.00" lengthAdjust="spacingAndGlyphs">RN-1 (µg/g)</text>
<rect x="50.40" y="266.80" width="7.6" height="7.4" fill="#fff" stroke="#000" stroke-width="1.2"/>
<rect x="49.80" y="281.40" width="8.8" height="8.6" fill="#000"/>
<text x="68.60" y="274.10" font-size="11" stroke="#151515" stroke-width="0.22" textLength="41.30" lengthAdjust="spacingAndGlyphs">2 weeks</text>
<text x="68.60" y="289.00" font-size="11" stroke="#151515" stroke-width="0.22" textLength="41.30" lengthAdjust="spacingAndGlyphs">4 weeks</text>
<text x="12.20" y="355.50" font-size="10.3" text-anchor="middle" stroke="#151515" stroke-width="0.22" textLength="87.00" lengthAdjust="spacingAndGlyphs" transform="rotate(-90 12.20 355.50)">γ/(γ+β) mRNA%</text>
<text x="1.20" y="251.30" font-size="16" font-weight="bold" fill="#000" stroke="#000" stroke-width="0.25" textLength="10.10" lengthAdjust="spacingAndGlyphs">B</text>
<line x1="225.00" y1="384.85" x2="333.75" y2="384.85" stroke="#c2c2c2" stroke-width="1"/>
<line x1="225.00" y1="343.40" x2="333.75" y2="343.40" stroke="#c2c2c2" stroke-width="1"/>
<line x1="225.00" y1="301.95" x2="333.75" y2="301.95" stroke="#c2c2c2" stroke-width="1"/>
<line x1="225.00" y1="260.50" x2="333.75" y2="260.50" stroke="#c2c2c2" stroke-width="1"/>
<line x1="333.75" y1="260.50" x2="333.75" y2="426.30" stroke="#c2c2c2" stroke-width="1"/>
<line x1="237.70" y1="416.43" x2="237.70" y2="414.36" stroke="#000" stroke-width="1.35"/>
<line x1="234.70" y1="414.36" x2="240.70" y2="414.36" stroke="#000" stroke-width="1.35"/>
<rect x="232.90" y="416.93" width="10.10" height="9.37" fill="#fff" stroke="#000" stroke-width="1.05"/>
<line x1="248.30" y1="417.51" x2="248.30" y2="415.44" stroke="#000" stroke-width="1.35"/>
<line x1="245.30" y1="415.44" x2="251.30" y2="415.44" stroke="#000" stroke-width="1.35"/>
<rect x="243.00" y="417.51" width="10.60" height="8.79" fill="#000"/>
<line x1="273.35" y1="408.06" x2="273.35" y2="405.57" stroke="#000" stroke-width="1.35"/>
<line x1="270.35" y1="405.57" x2="276.35" y2="405.57" stroke="#000" stroke-width="1.35"/>
<rect x="268.55" y="408.56" width="10.10" height="17.74" fill="#fff" stroke="#000" stroke-width="1.05"/>
<line x1="283.95" y1="401.02" x2="283.95" y2="399.52" stroke="#000" stroke-width="1.35"/>
<line x1="280.95" y1="399.52" x2="286.95" y2="399.52" stroke="#000" stroke-width="1.35"/>
<rect x="278.65" y="401.02" width="10.60" height="25.28" fill="#000"/>
<line x1="309.00" y1="333.53" x2="309.00" y2="324.83" stroke="#000" stroke-width="1.35"/>
<line x1="306.00" y1="324.83" x2="312.00" y2="324.83" stroke="#000" stroke-width="1.35"/>
<rect x="304.20" y="334.03" width="10.10" height="92.27" fill="#fff" stroke="#000" stroke-width="1.05"/>
<line x1="319.60" y1="301.62" x2="319.60" y2="287.53" stroke="#000" stroke-width="1.35"/>
<line x1="316.60" y1="287.53" x2="322.60" y2="287.53" stroke="#000" stroke-width="1.35"/>
<rect x="314.30" y="301.62" width="10.60" height="124.68" fill="#000"/>
<path d="M283.95,392.72L283.95,390.52M283.95,392.72L286.04,392.04M283.95,392.72L285.24,394.50M283.95,392.72L282.66,394.50M283.95,392.72L281.86,392.04" stroke="#1a1a1a" stroke-width="1.3" fill="none" stroke-linecap="round"/>
<path d="M305.70,318.03L305.70,315.83M305.70,318.03L307.79,317.35M305.70,318.03L306.99,319.81M305.70,318.03L304.41,319.81M305.70,318.03L303.61,317.35" stroke="#1a1a1a" stroke-width="1.3" fill="none" stroke-linecap="round"/>
<path d="M312.30,318.03L312.30,315.83M312.30,318.03L314.39,317.35M312.30,318.03L313.59,319.81M312.30,318.03L311.01,319.81M312.30,318.03L310.21,317.35" stroke="#1a1a1a" stroke-width="1.3" fill="none" stroke-linecap="round"/>
<path d="M316.30,280.73L316.30,278.53M316.30,280.73L318.39,280.05M316.30,280.73L317.59,282.51M316.30,280.73L315.01,282.51M316.30,280.73L314.21,280.05" stroke="#1a1a1a" stroke-width="1.3" fill="none" stroke-linecap="round"/>
<path d="M322.90,280.73L322.90,278.53M322.90,280.73L324.99,280.05M322.90,280.73L324.19,282.51M322.90,280.73L321.61,282.51M322.90,280.73L320.81,280.05" stroke="#1a1a1a" stroke-width="1.3" fill="none" stroke-linecap="round"/>
<line x1="225.00" y1="260.00" x2="225.00" y2="426.80" stroke="#1a1a1a" stroke-width="1.3"/>
<line x1="224.40" y1="426.30" x2="334.25" y2="426.30" stroke="#1a1a1a" stroke-width="1.3"/>
<line x1="221.00" y1="426.30" x2="225.00" y2="426.30" stroke="#1a1a1a" stroke-width="1.2"/>
<text x="217.10" y="431.20" font-size="11.4" text-anchor="end" stroke="#151515" stroke-width="0.22">0</text>
<line x1="221.00" y1="384.85" x2="225.00" y2="384.85" stroke="#1a1a1a" stroke-width="1.2"/>
<text x="217.10" y="389.75" font-size="11.4" text-anchor="end" stroke="#151515" stroke-width="0.22">5</text>
<line x1="221.00" y1="343.40" x2="225.00" y2="343.40" stroke="#1a1a1a" stroke-width="1.2"/>
<text x="217.10" y="348.30" font-size="11.4" text-anchor="end" stroke="#151515" stroke-width="0.22">10</text>
<line x1="221.00" y1="301.95" x2="225.00" y2="301.95" stroke="#1a1a1a" stroke-width="1.2"/>
<text x="217.10" y="306.85" font-size="11.4" text-anchor="end" stroke="#151515" stroke-width="0.22">15</text>
<line x1="221.00" y1="260.50" x2="225.00" y2="260.50" stroke="#1a1a1a" stroke-width="1.2"/>
<text x="217.10" y="265.40" font-size="11.4" text-anchor="end" stroke="#151515" stroke-width="0.22">20</text>
<line x1="225.00" y1="426.30" x2="225.00" y2="429.90" stroke="#1a1a1a" stroke-width="1.2"/>
<line x1="261.25" y1="426.30" x2="261.25" y2="429.90" stroke="#1a1a1a" stroke-width="1.2"/>
<line x1="297.50" y1="426.30" x2="297.50" y2="429.90" stroke="#1a1a1a" stroke-width="1.2"/>
<line x1="333.75" y1="426.30" x2="333.75" y2="429.90" stroke="#1a1a1a" stroke-width="1.2"/>
<text x="243.00" y="442.30" font-size="10.8" text-anchor="middle" stroke="#151515" stroke-width="0.22">0</text>
<text x="278.65" y="442.30" font-size="10.8" text-anchor="middle" stroke="#151515" stroke-width="0.22">3</text>
<text x="314.30" y="442.30" font-size="10.8" text-anchor="middle" stroke="#151515" stroke-width="0.22">10</text>
<text x="248.30" y="454.60" font-size="11" stroke="#151515" stroke-width="0.22" textLength="61.80" lengthAdjust="spacingAndGlyphs">RN-1 (µg/g)</text>
<rect x="229.70" y="268.10" width="7.6" height="7.4" fill="#fff" stroke="#000" stroke-width="1.2"/>
<rect x="229.10" y="285.50" width="8.8" height="8.6" fill="#000"/>
<text x="247.40" y="275.10" font-size="11" stroke="#151515" stroke-width="0.22" textLength="41.80" lengthAdjust="spacingAndGlyphs">2 weeks</text>
<text x="247.40" y="293.40" font-size="11" stroke="#151515" stroke-width="0.22" textLength="41.80" lengthAdjust="spacingAndGlyphs">4 weeks</text>
<text x="196.70" y="343.75" font-size="10.3" text-anchor="middle" stroke="#151515" stroke-width="0.22" textLength="172.50" lengthAdjust="spacingAndGlyphs" transform="rotate(-90 196.70 343.75)">Fold change of mRNA expression</text>
<text x="255.20" y="251.80" font-size="12" stroke="#151515" stroke-width="0.1" textLength="47.90" lengthAdjust="spacingAndGlyphs">γ-globin</text>
<text x="182.20" y="252.00" font-size="16" font-weight="bold" fill="#000" stroke="#000" stroke-width="0.25" textLength="11.10" lengthAdjust="spacingAndGlyphs">C</text>
<line x1="409.25" y1="384.60" x2="517.50" y2="384.60" stroke="#c2c2c2" stroke-width="1"/>
<line x1="409.25" y1="342.90" x2="517.50" y2="342.90" stroke="#c2c2c2" stroke-width="1"/>
<line x1="409.25" y1="301.20" x2="517.50" y2="301.20" stroke="#c2c2c2" stroke-width="1"/>
<line x1="409.25" y1="259.50" x2="517.50" y2="259.50" stroke="#c2c2c2" stroke-width="1"/>
<line x1="517.50" y1="259.50" x2="517.50" y2="426.30" stroke="#c2c2c2" stroke-width="1"/>
<line x1="421.70" y1="417.96" x2="421.70" y2="415.21" stroke="#000" stroke-width="1.35"/>
<line x1="418.70" y1="415.21" x2="424.70" y2="415.21" stroke="#000" stroke-width="1.35"/>
<rect x="416.90" y="418.46" width="10.10" height="7.84" fill="#fff" stroke="#000" stroke-width="1.05"/>
<line x1="432.30" y1="416.88" x2="432.30" y2="415.21" stroke="#000" stroke-width="1.35"/>
<line x1="429.30" y1="415.21" x2="435.30" y2="415.21" stroke="#000" stroke-width="1.35"/>
<rect x="427.00" y="416.88" width="10.60" height="9.42" fill="#000"/>
<line x1="457.90" y1="416.46" x2="457.90" y2="414.37" stroke="#000" stroke-width="1.35"/>
<line x1="454.90" y1="414.37" x2="460.90" y2="414.37" stroke="#000" stroke-width="1.35"/>
<rect x="453.10" y="416.96" width="10.10" height="9.34" fill="#fff" stroke="#000" stroke-width="1.05"/>
<line x1="468.50" y1="413.12" x2="468.50" y2="412.46" stroke="#000" stroke-width="1.35"/>
<line x1="465.50" y1="412.46" x2="471.50" y2="412.46" stroke="#000" stroke-width="1.35"/>
<rect x="463.20" y="413.12" width="10.60" height="13.18" fill="#000"/>
<line x1="494.10" y1="416.88" x2="494.10" y2="415.88" stroke="#000" stroke-width="1.35"/>
<line x1="491.10" y1="415.88" x2="497.10" y2="415.88" stroke="#000" stroke-width="1.35"/>
<rect x="489.30" y="417.38" width="10.10" height="8.92" fill="#fff" stroke="#000" stroke-width="1.05"/>
<line x1="504.70" y1="416.88" x2="504.70" y2="414.21" stroke="#000" stroke-width="1.35"/>
<line x1="501.70" y1="414.21" x2="507.70" y2="414.21" stroke="#000" stroke-width="1.35"/>
<rect x="499.40" y="416.88" width="10.60" height="9.42" fill="#000"/>
<line x1="409.25" y1="259.00" x2="409.25" y2="426.80" stroke="#1a1a1a" stroke-width="1.3"/>
<line x1="408.65" y1="426.30" x2="518.00" y2="426.30" stroke="#1a1a1a" stroke-width="1.3"/>
<line x1="405.25" y1="426.30" x2="409.25" y2="426.30" stroke="#1a1a1a" stroke-width="1.2"/>
<text x="401.35" y="431.20" font-size="11.4" text-anchor="end" stroke="#151515" stroke-width="0.22">0</text>
<line x1="405.25" y1="384.60" x2="409.25" y2="384.60" stroke="#1a1a1a" stroke-width="1.2"/>
<text x="401.35" y="389.50" font-size="11.4" text-anchor="end" stroke="#151515" stroke-width="0.22">5</text>
<line x1="405.25" y1="342.90" x2="409.25" y2="342.90" stroke="#1a1a1a" stroke-width="1.2"/>
<text x="401.35" y="347.80" font-size="11.4" text-anchor="end" stroke="#151515" stroke-width="0.22">10</text>
<line x1="405.25" y1="301.20" x2="409.25" y2="301.20" stroke="#1a1a1a" stroke-width="1.2"/>
<text x="401.35" y="306.10" font-size="11.4" text-anchor="end" stroke="#151515" stroke-width="0.22">15</text>
<line x1="405.25" y1="259.50" x2="409.25" y2="259.50" stroke="#1a1a1a" stroke-width="1.2"/>
<text x="401.35" y="264.40" font-size="11.4" text-anchor="end" stroke="#151515" stroke-width="0.22">20</text>
<line x1="409.25" y1="426.30" x2="409.25" y2="429.90" stroke="#1a1a1a" stroke-width="1.2"/>
<line x1="445.33" y1="426.30" x2="445.33" y2="429.90" stroke="#1a1a1a" stroke-width="1.2"/>
<line x1="481.42" y1="426.30" x2="481.42" y2="429.90" stroke="#1a1a1a" stroke-width="1.2"/>
<line x1="517.50" y1="426.30" x2="517.50" y2="429.90" stroke="#1a1a1a" stroke-width="1.2"/>
<text x="427.00" y="442.30" font-size="10.8" text-anchor="middle" stroke="#151515" stroke-width="0.22">0</text>
<text x="463.20" y="442.30" font-size="10.8" text-anchor="middle" stroke="#151515" stroke-width="0.22">3</text>
<text x="499.40" y="442.30" font-size="10.8" text-anchor="middle" stroke="#151515" stroke-width="0.22">10</text>
<text x="433.30" y="454.80" font-size="11" stroke="#151515" stroke-width="0.22" textLength="61.30" lengthAdjust="spacingAndGlyphs">RN-1 (µg/g)</text>
<rect x="414.80" y="267.80" width="7.6" height="7.4" fill="#fff" stroke="#000" stroke-width="1.2"/>
<rect x="414.20" y="285.00" width="8.8" height="8.6" fill="#000"/>
<text x="432.00" y="274.50" font-size="11" stroke="#151515" stroke-width="0.22" textLength="42.50" lengthAdjust="spacingAndGlyphs">2 weeks</text>
<text x="432.00" y="292.00" font-size="11" stroke="#151515" stroke-width="0.22" textLength="42.50" lengthAdjust="spacingAndGlyphs">4 weeks</text>
<text x="379.40" y="344.00" font-size="10.3" text-anchor="middle" stroke="#151515" stroke-width="0.22" textLength="172.00" lengthAdjust="spacingAndGlyphs" transform="rotate(-90 379.40 344.00)">Fold change of mRNA expression</text>
<text x="438.00" y="251.80" font-size="12" stroke="#151515" stroke-width="0.1" textLength="50.00" lengthAdjust="spacingAndGlyphs">β-globin</text>
<text x="366.00" y="251.30" font-size="16" font-weight="bold" fill="#000" stroke="#000" stroke-width="0.25" textLength="10.60" lengthAdjust="spacingAndGlyphs">D</text>
<line x1="44.50" y1="630.38" x2="153.75" y2="630.38" stroke="#c2c2c2" stroke-width="1"/>
<line x1="44.50" y1="588.75" x2="153.75" y2="588.75" stroke="#c2c2c2" stroke-width="1"/>
<line x1="44.50" y1="547.12" x2="153.75" y2="547.12" stroke="#c2c2c2" stroke-width="1"/>
<line x1="44.50" y1="505.50" x2="153.75" y2="505.50" stroke="#c2c2c2" stroke-width="1"/>
<line x1="153.75" y1="505.50" x2="153.75" y2="672.00" stroke="#c2c2c2" stroke-width="1"/>
<line x1="57.20" y1="668.12" x2="57.20" y2="667.84" stroke="#000" stroke-width="1.35"/>
<line x1="54.20" y1="667.84" x2="60.20" y2="667.84" stroke="#000" stroke-width="1.35"/>
<rect x="52.40" y="668.62" width="10.10" height="3.38" fill="#fff" stroke="#000" stroke-width="1.05"/>
<line x1="67.80" y1="669.00" x2="67.80" y2="668.73" stroke="#000" stroke-width="1.35"/>
<line x1="64.80" y1="668.73" x2="70.80" y2="668.73" stroke="#000" stroke-width="1.35"/>
<rect x="62.50" y="669.00" width="10.60" height="3.00" fill="#000"/>
<line x1="93.30" y1="666.89" x2="93.30" y2="666.34" stroke="#000" stroke-width="1.35"/>
<line x1="90.30" y1="666.34" x2="96.30" y2="666.34" stroke="#000" stroke-width="1.35"/>
<rect x="88.50" y="667.39" width="10.10" height="4.61" fill="#fff" stroke="#000" stroke-width="1.05"/>
<line x1="103.90" y1="653.10" x2="103.90" y2="650.19" stroke="#000" stroke-width="1.35"/>
<line x1="100.90" y1="650.19" x2="106.90" y2="650.19" stroke="#000" stroke-width="1.35"/>
<rect x="98.60" y="653.10" width="10.60" height="18.90" fill="#000"/>
<line x1="129.40" y1="616.78" x2="129.40" y2="614.56" stroke="#000" stroke-width="1.35"/>
<line x1="126.40" y1="614.56" x2="132.40" y2="614.56" stroke="#000" stroke-width="1.35"/>
<rect x="124.60" y="617.28" width="10.10" height="54.72" fill="#fff" stroke="#000" stroke-width="1.05"/>
<line x1="140.00" y1="570.43" x2="140.00" y2="566.69" stroke="#000" stroke-width="1.35"/>
<line x1="137.00" y1="566.69" x2="143.00" y2="566.69" stroke="#000" stroke-width="1.35"/>
<rect x="134.70" y="570.43" width="10.60" height="101.57" fill="#000"/>
<path d="M103.90,643.39L103.90,641.19M103.90,643.39L105.99,642.71M103.90,643.39L105.19,645.17M103.90,643.39L102.61,645.17M103.90,643.39L101.81,642.71" stroke="#1a1a1a" stroke-width="1.3" fill="none" stroke-linecap="round"/>
<path d="M126.10,607.76L126.10,605.56M126.10,607.76L128.19,607.08M126.10,607.76L127.39,609.54M126.10,607.76L124.81,609.54M126.10,607.76L124.01,607.08" stroke="#1a1a1a" stroke-width="1.3" fill="none" stroke-linecap="round"/>
<path d="M132.70,607.76L132.70,605.56M132.70,607.76L134.79,607.08M132.70,607.76L133.99,609.54M132.70,607.76L131.41,609.54M132.70,607.76L130.61,607.08" stroke="#1a1a1a" stroke-width="1.3" fill="none" stroke-linecap="round"/>
<path d="M136.70,559.89L136.70,557.69M136.70,559.89L138.79,559.21M136.70,559.89L137.99,561.67M136.70,559.89L135.41,561.67M136.70,559.89L134.61,559.21" stroke="#1a1a1a" stroke-width="1.3" fill="none" stroke-linecap="round"/>
<path d="M143.30,559.89L143.30,557.69M143.30,559.89L145.39,559.21M143.30,559.89L144.59,561.67M143.30,559.89L142.01,561.67M143.30,559.89L141.21,559.21" stroke="#1a1a1a" stroke-width="1.3" fill="none" stroke-linecap="round"/>
<line x1="44.50" y1="505.00" x2="44.50" y2="672.50" stroke="#1a1a1a" stroke-width="1.3"/>
<line x1="43.90" y1="672.00" x2="154.25" y2="672.00" stroke="#1a1a1a" stroke-width="1.3"/>
<line x1="40.50" y1="672.00" x2="44.50" y2="672.00" stroke="#1a1a1a" stroke-width="1.2"/>
<text x="36.60" y="676.90" font-size="11.4" text-anchor="end" stroke="#151515" stroke-width="0.22">0</text>
<line x1="40.50" y1="630.38" x2="44.50" y2="630.38" stroke="#1a1a1a" stroke-width="1.2"/>
<text x="36.60" y="635.27" font-size="11.4" text-anchor="end" stroke="#151515" stroke-width="0.22">15</text>
<line x1="40.50" y1="588.75" x2="44.50" y2="588.75" stroke="#1a1a1a" stroke-width="1.2"/>
<text x="36.60" y="593.65" font-size="11.4" text-anchor="end" stroke="#151515" stroke-width="0.22">30</text>
<line x1="40.50" y1="547.12" x2="44.50" y2="547.12" stroke="#1a1a1a" stroke-width="1.2"/>
<text x="36.60" y="552.02" font-size="11.4" text-anchor="end" stroke="#151515" stroke-width="0.22">45</text>
<line x1="40.50" y1="505.50" x2="44.50" y2="505.50" stroke="#1a1a1a" stroke-width="1.2"/>
<text x="36.60" y="510.40" font-size="11.4" text-anchor="end" stroke="#151515" stroke-width="0.22">60</text>
<line x1="44.50" y1="672.00" x2="44.50" y2="675.60" stroke="#1a1a1a" stroke-width="1.2"/>
<line x1="80.92" y1="672.00" x2="80.92" y2="675.60" stroke="#1a1a1a" stroke-width="1.2"/>
<line x1="117.33" y1="672.00" x2="117.33" y2="675.60" stroke="#1a1a1a" stroke-width="1.2"/>
<line x1="153.75" y1="672.00" x2="153.75" y2="675.60" stroke="#1a1a1a" stroke-width="1.2"/>
<text x="62.50" y="688.00" font-size="10.8" text-anchor="middle" stroke="#151515" stroke-width="0.22">0</text>
<text x="98.60" y="688.00" font-size="10.8" text-anchor="middle" stroke="#151515" stroke-width="0.22">3</text>
<text x="134.70" y="688.00" font-size="10.8" text-anchor="middle" stroke="#151515" stroke-width="0.22">10</text>
<text x="68.00" y="700.50" font-size="11" stroke="#151515" stroke-width="0.22" textLength="59.50" lengthAdjust="spacingAndGlyphs">RN-1 (µg/g)</text>
<rect x="50.00" y="512.10" width="7.6" height="7.4" fill="#fff" stroke="#000" stroke-width="1.2"/>
<rect x="49.40" y="527.60" width="8.8" height="8.6" fill="#000"/>
<text x="70.60" y="520.50" font-size="11" stroke="#151515" stroke-width="0.22" textLength="42.60" lengthAdjust="spacingAndGlyphs">2 weeks</text>
<text x="70.60" y="536.25" font-size="11" stroke="#151515" stroke-width="0.22" textLength="42.60" lengthAdjust="spacingAndGlyphs">4 weeks</text>
<text x="15.60" y="589.30" font-size="10.3" text-anchor="middle" stroke="#151515" stroke-width="0.22" textLength="173.60" lengthAdjust="spacingAndGlyphs" transform="rotate(-90 15.60 589.30)">Fold change of mRNA expression</text>
<text x="70.50" y="498.20" font-size="12" stroke="#151515" stroke-width="0.1" textLength="55.00" lengthAdjust="spacingAndGlyphs">εγ-globin</text>
<text x="1.20" y="495.60" font-size="16" font-weight="bold" fill="#000" stroke="#000" stroke-width="0.25" textLength="9.90" lengthAdjust="spacingAndGlyphs">E</text>
<line x1="225.00" y1="630.38" x2="333.00" y2="630.38" stroke="#c2c2c2" stroke-width="1"/>
<line x1="225.00" y1="588.75" x2="333.00" y2="588.75" stroke="#c2c2c2" stroke-width="1"/>
<line x1="225.00" y1="547.12" x2="333.00" y2="547.12" stroke="#c2c2c2" stroke-width="1"/>
<line x1="225.00" y1="505.50" x2="333.00" y2="505.50" stroke="#c2c2c2" stroke-width="1"/>
<line x1="333.00" y1="505.50" x2="333.00" y2="672.00" stroke="#c2c2c2" stroke-width="1"/>
<line x1="237.30" y1="668.59" x2="237.30" y2="668.31" stroke="#000" stroke-width="1.35"/>
<line x1="234.30" y1="668.31" x2="240.30" y2="668.31" stroke="#000" stroke-width="1.35"/>
<rect x="232.50" y="669.09" width="10.10" height="2.91" fill="#fff" stroke="#000" stroke-width="1.05"/>
<line x1="247.90" y1="668.09" x2="247.90" y2="667.81" stroke="#000" stroke-width="1.35"/>
<line x1="244.90" y1="667.81" x2="250.90" y2="667.81" stroke="#000" stroke-width="1.35"/>
<rect x="242.60" y="668.09" width="10.60" height="3.91" fill="#000"/>
<line x1="273.70" y1="665.40" x2="273.70" y2="662.79" stroke="#000" stroke-width="1.35"/>
<line x1="270.70" y1="662.79" x2="276.70" y2="662.79" stroke="#000" stroke-width="1.35"/>
<rect x="268.90" y="665.90" width="10.10" height="6.10" fill="#fff" stroke="#000" stroke-width="1.05"/>
<line x1="284.30" y1="660.51" x2="284.30" y2="657.60" stroke="#000" stroke-width="1.35"/>
<line x1="281.30" y1="657.60" x2="287.30" y2="657.60" stroke="#000" stroke-width="1.35"/>
<rect x="279.00" y="660.51" width="10.60" height="11.49" fill="#000"/>
<line x1="310.10" y1="547.40" x2="310.10" y2="541.85" stroke="#000" stroke-width="1.35"/>
<line x1="307.10" y1="541.85" x2="313.10" y2="541.85" stroke="#000" stroke-width="1.35"/>
<rect x="305.30" y="547.90" width="10.10" height="124.10" fill="#fff" stroke="#000" stroke-width="1.05"/>
<line x1="320.70" y1="519.93" x2="320.70" y2="514.94" stroke="#000" stroke-width="1.35"/>
<line x1="317.70" y1="514.94" x2="323.70" y2="514.94" stroke="#000" stroke-width="1.35"/>
<rect x="315.40" y="519.93" width="10.60" height="152.07" fill="#000"/>
<path d="M284.30,650.80L284.30,648.60M284.30,650.80L286.39,650.12M284.30,650.80L285.59,652.58M284.30,650.80L283.01,652.58M284.30,650.80L282.21,650.12" stroke="#1a1a1a" stroke-width="1.3" fill="none" stroke-linecap="round"/>
<path d="M306.80,535.05L306.80,532.85M306.80,535.05L308.89,534.37M306.80,535.05L308.09,536.83M306.80,535.05L305.51,536.83M306.80,535.05L304.71,534.37" stroke="#1a1a1a" stroke-width="1.3" fill="none" stroke-linecap="round"/>
<path d="M313.40,535.05L313.40,532.85M313.40,535.05L315.49,534.37M313.40,535.05L314.69,536.83M313.40,535.05L312.11,536.83M313.40,535.05L311.31,534.37" stroke="#1a1a1a" stroke-width="1.3" fill="none" stroke-linecap="round"/>
<path d="M317.40,508.14L317.40,505.94M317.40,508.14L319.49,507.46M317.40,508.14L318.69,509.91M317.40,508.14L316.11,509.91M317.40,508.14L315.31,507.46" stroke="#1a1a1a" stroke-width="1.3" fill="none" stroke-linecap="round"/>
<path d="M324.00,508.14L324.00,505.94M324.00,508.14L326.09,507.46M324.00,508.14L325.29,509.91M324.00,508.14L322.71,509.91M324.00,508.14L321.91,507.46" stroke="#1a1a1a" stroke-width="1.3" fill="none" stroke-linecap="round"/>
<line x1="225.00" y1="505.00" x2="225.00" y2="672.50" stroke="#1a1a1a" stroke-width="1.3"/>
<line x1="224.40" y1="672.00" x2="333.50" y2="672.00" stroke="#1a1a1a" stroke-width="1.3"/>
<line x1="221.00" y1="672.00" x2="225.00" y2="672.00" stroke="#1a1a1a" stroke-width="1.2"/>
<text x="217.10" y="676.90" font-size="11.4" text-anchor="end" stroke="#151515" stroke-width="0.22">0</text>
<line x1="221.00" y1="630.38" x2="225.00" y2="630.38" stroke="#1a1a1a" stroke-width="1.2"/>
<text x="217.10" y="635.27" font-size="11.4" text-anchor="end" stroke="#151515" stroke-width="0.22">15</text>
<line x1="221.00" y1="588.75" x2="225.00" y2="588.75" stroke="#1a1a1a" stroke-width="1.2"/>
<text x="217.10" y="593.65" font-size="11.4" text-anchor="end" stroke="#151515" stroke-width="0.22">30</text>
<line x1="221.00" y1="547.12" x2="225.00" y2="547.12" stroke="#1a1a1a" stroke-width="1.2"/>
<text x="217.10" y="552.02" font-size="11.4" text-anchor="end" stroke="#151515" stroke-width="0.22">45</text>
<line x1="221.00" y1="505.50" x2="225.00" y2="505.50" stroke="#1a1a1a" stroke-width="1.2"/>
<text x="217.10" y="510.40" font-size="11.4" text-anchor="end" stroke="#151515" stroke-width="0.22">60</text>
<line x1="225.00" y1="672.00" x2="225.00" y2="675.60" stroke="#1a1a1a" stroke-width="1.2"/>
<line x1="261.00" y1="672.00" x2="261.00" y2="675.60" stroke="#1a1a1a" stroke-width="1.2"/>
<line x1="297.00" y1="672.00" x2="297.00" y2="675.60" stroke="#1a1a1a" stroke-width="1.2"/>
<line x1="333.00" y1="672.00" x2="333.00" y2="675.60" stroke="#1a1a1a" stroke-width="1.2"/>
<text x="242.60" y="688.00" font-size="10.8" text-anchor="middle" stroke="#151515" stroke-width="0.22">0</text>
<text x="279.00" y="688.00" font-size="10.8" text-anchor="middle" stroke="#151515" stroke-width="0.22">3</text>
<text x="315.40" y="688.00" font-size="10.8" text-anchor="middle" stroke="#151515" stroke-width="0.22">10</text>
<text x="248.50" y="699.50" font-size="11" stroke="#151515" stroke-width="0.22" textLength="60.50" lengthAdjust="spacingAndGlyphs">RN-1 (µg/g)</text>
<rect x="231.20" y="512.20" width="7.6" height="7.4" fill="#fff" stroke="#000" stroke-width="1.2"/>
<rect x="230.60" y="527.10" width="8.8" height="8.6" fill="#000"/>
<text x="252.00" y="520.50" font-size="11" stroke="#151515" stroke-width="0.22" textLength="41.75" lengthAdjust="spacingAndGlyphs">2 weeks</text>
<text x="252.00" y="536.00" font-size="11" stroke="#151515" stroke-width="0.22" textLength="41.75" lengthAdjust="spacingAndGlyphs">4 weeks</text>
<text x="196.20" y="589.60" font-size="10.3" text-anchor="middle" stroke="#151515" stroke-width="0.22" textLength="173.00" lengthAdjust="spacingAndGlyphs" transform="rotate(-90 196.20 589.60)">Fold change of mRNA expression</text>
<text x="246.20" y="498.30" font-size="12" stroke="#151515" stroke-width="0.1" textLength="64.90" lengthAdjust="spacingAndGlyphs">βh1-globin</text>
<text x="182.10" y="495.60" font-size="16" font-weight="bold" fill="#000" stroke="#000" stroke-width="0.25" textLength="9.20" lengthAdjust="spacingAndGlyphs">F</text>
<line x1="405.30" y1="630.35" x2="513.50" y2="630.35" stroke="#c2c2c2" stroke-width="1"/>
<line x1="405.30" y1="588.70" x2="513.50" y2="588.70" stroke="#c2c2c2" stroke-width="1"/>
<line x1="405.30" y1="547.05" x2="513.50" y2="547.05" stroke="#c2c2c2" stroke-width="1"/>
<line x1="405.30" y1="505.40" x2="513.50" y2="505.40" stroke="#c2c2c2" stroke-width="1"/>
<line x1="513.50" y1="505.40" x2="513.50" y2="672.00" stroke="#c2c2c2" stroke-width="1"/>
<line x1="417.70" y1="668.08" x2="417.70" y2="667.09" stroke="#000" stroke-width="1.35"/>
<line x1="414.70" y1="667.09" x2="420.70" y2="667.09" stroke="#000" stroke-width="1.35"/>
<rect x="412.90" y="668.58" width="10.10" height="3.42" fill="#fff" stroke="#000" stroke-width="1.05"/>
<line x1="428.30" y1="666.42" x2="428.30" y2="666.00" stroke="#000" stroke-width="1.35"/>
<line x1="425.30" y1="666.00" x2="431.30" y2="666.00" stroke="#000" stroke-width="1.35"/>
<rect x="423.00" y="666.42" width="10.60" height="5.58" fill="#000"/>
<line x1="453.90" y1="665.42" x2="453.90" y2="661.84" stroke="#000" stroke-width="1.35"/>
<line x1="450.90" y1="661.84" x2="456.90" y2="661.84" stroke="#000" stroke-width="1.35"/>
<rect x="449.10" y="665.92" width="10.10" height="6.08" fill="#fff" stroke="#000" stroke-width="1.05"/>
<line x1="464.50" y1="661.84" x2="464.50" y2="653.34" stroke="#000" stroke-width="1.35"/>
<line x1="461.50" y1="653.34" x2="467.50" y2="653.34" stroke="#000" stroke-width="1.35"/>
<rect x="459.20" y="661.84" width="10.60" height="10.16" fill="#000"/>
<line x1="490.10" y1="607.44" x2="490.10" y2="593.70" stroke="#000" stroke-width="1.35"/>
<line x1="487.10" y1="593.70" x2="493.10" y2="593.70" stroke="#000" stroke-width="1.35"/>
<rect x="485.30" y="607.94" width="10.10" height="64.06" fill="#fff" stroke="#000" stroke-width="1.05"/>
<line x1="500.70" y1="548.30" x2="500.70" y2="518.31" stroke="#000" stroke-width="1.35"/>
<line x1="497.70" y1="518.31" x2="503.70" y2="518.31" stroke="#000" stroke-width="1.35"/>
<rect x="495.40" y="548.30" width="10.60" height="123.70" fill="#000"/>
<path d="M464.50,646.54L464.50,644.34M464.50,646.54L466.59,645.86M464.50,646.54L465.79,648.32M464.50,646.54L463.21,648.32M464.50,646.54L462.41,645.86" stroke="#1a1a1a" stroke-width="1.3" fill="none" stroke-linecap="round"/>
<path d="M486.80,586.90L486.80,584.70M486.80,586.90L488.89,586.22M486.80,586.90L488.09,588.68M486.80,586.90L485.51,588.68M486.80,586.90L484.71,586.22" stroke="#1a1a1a" stroke-width="1.3" fill="none" stroke-linecap="round"/>
<path d="M493.40,586.90L493.40,584.70M493.40,586.90L495.49,586.22M493.40,586.90L494.69,588.68M493.40,586.90L492.11,588.68M493.40,586.90L491.31,586.22" stroke="#1a1a1a" stroke-width="1.3" fill="none" stroke-linecap="round"/>
<path d="M497.40,511.51L497.40,509.31M497.40,511.51L499.49,510.83M497.40,511.51L498.69,513.29M497.40,511.51L496.11,513.29M497.40,511.51L495.31,510.83" stroke="#1a1a1a" stroke-width="1.3" fill="none" stroke-linecap="round"/>
<path d="M504.00,511.51L504.00,509.31M504.00,511.51L506.09,510.83M504.00,511.51L505.29,513.29M504.00,511.51L502.71,513.29M504.00,511.51L501.91,510.83" stroke="#1a1a1a" stroke-width="1.3" fill="none" stroke-linecap="round"/>
<line x1="405.30" y1="504.90" x2="405.30" y2="672.50" stroke="#1a1a1a" stroke-width="1.3"/>
<line x1="404.70" y1="672.00" x2="514.00" y2="672.00" stroke="#1a1a1a" stroke-width="1.3"/>
<line x1="401.30" y1="672.00" x2="405.30" y2="672.00" stroke="#1a1a1a" stroke-width="1.2"/>
<text x="397.40" y="676.90" font-size="11.4" text-anchor="end" stroke="#151515" stroke-width="0.22">0</text>
<line x1="401.30" y1="630.35" x2="405.30" y2="630.35" stroke="#1a1a1a" stroke-width="1.2"/>
<text x="397.40" y="635.25" font-size="11.4" text-anchor="end" stroke="#151515" stroke-width="0.22">5</text>
<line x1="401.30" y1="588.70" x2="405.30" y2="588.70" stroke="#1a1a1a" stroke-width="1.2"/>
<text x="397.40" y="593.60" font-size="11.4" text-anchor="end" stroke="#151515" stroke-width="0.22">10</text>
<line x1="401.30" y1="547.05" x2="405.30" y2="547.05" stroke="#1a1a1a" stroke-width="1.2"/>
<text x="397.40" y="551.95" font-size="11.4" text-anchor="end" stroke="#151515" stroke-width="0.22">15</text>
<line x1="401.30" y1="505.40" x2="405.30" y2="505.40" stroke="#1a1a1a" stroke-width="1.2"/>
<text x="397.40" y="510.30" font-size="11.4" text-anchor="end" stroke="#151515" stroke-width="0.22">20</text>
<line x1="405.30" y1="672.00" x2="405.30" y2="675.60" stroke="#1a1a1a" stroke-width="1.2"/>
<line x1="441.37" y1="672.00" x2="441.37" y2="675.60" stroke="#1a1a1a" stroke-width="1.2"/>
<line x1="477.43" y1="672.00" x2="477.43" y2="675.60" stroke="#1a1a1a" stroke-width="1.2"/>
<line x1="513.50" y1="672.00" x2="513.50" y2="675.60" stroke="#1a1a1a" stroke-width="1.2"/>
<text x="423.00" y="688.00" font-size="10.8" text-anchor="middle" stroke="#151515" stroke-width="0.22">0</text>
<text x="459.20" y="688.00" font-size="10.8" text-anchor="middle" stroke="#151515" stroke-width="0.22">3</text>
<text x="495.40" y="688.00" font-size="10.8" text-anchor="middle" stroke="#151515" stroke-width="0.22">10</text>
<text x="427.80" y="700.00" font-size="11" stroke="#151515" stroke-width="0.22" textLength="59.50" lengthAdjust="spacingAndGlyphs">RN-1 (µg/g)</text>
<rect x="410.10" y="512.30" width="7.6" height="7.4" fill="#fff" stroke="#000" stroke-width="1.2"/>
<rect x="409.50" y="527.80" width="8.8" height="8.6" fill="#000"/>
<text x="430.60" y="520.80" font-size="11" stroke="#151515" stroke-width="0.22" textLength="42.30" lengthAdjust="spacingAndGlyphs">2 weeks</text>
<text x="430.60" y="536.30" font-size="11" stroke="#151515" stroke-width="0.22" textLength="42.30" lengthAdjust="spacingAndGlyphs">4 weeks</text>
<text x="374.40" y="594.00" font-size="10.3" text-anchor="middle" stroke="#151515" stroke-width="0.22" textLength="174.00" lengthAdjust="spacingAndGlyphs" transform="rotate(-90 374.40 594.00)">γ+εγ+βh1/(γ+εγ+βh1+β) mRNA%</text>
<text x="366.00" y="495.60" font-size="16" font-weight="bold" fill="#000" stroke="#000" stroke-width="0.25" textLength="12.00" lengthAdjust="spacingAndGlyphs">G</text>
</svg>
</body></html>
